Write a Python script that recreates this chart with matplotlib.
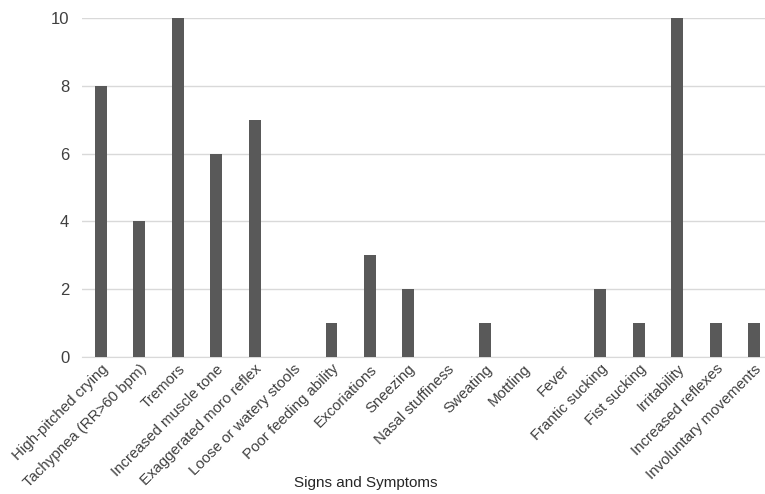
import matplotlib
matplotlib.use("Agg")
import matplotlib.pyplot as plt
import numpy as np

categories = ["High-pitched crying", "Tachypnea (RR>60 bpm)", "Tremors", "Increased muscle tone",
              "Exaggerated moro reflex", "Loose or watery stools", "Poor feeding ability", "Excoriations",
              "Sneezing", "Nasal stuffiness", "Sweating", "Mottling", "Fever", "Frantic sucking",
              "Fist sucking", "Irritability", "Increased reflexes", "Involuntary movements"]
values = [8, 4, 10, 6, 7, 0, 1, 3, 2, 0, 1, 0, 0, 2, 1, 10, 1, 1]
yticks = [0, 2, 4, 6, 8, 10]
xlabel = "Signs and Symptoms"

plt.rcParams['font.family'] = ['Liberation Sans', 'DejaVu Sans']

W, H = 765, 494
fig = plt.figure(figsize=(W/100, H/100), dpi=100)
n = len(categories)
step = (754 - 101) / (n - 1)
left_px = 101 - step / 2
right_px = left_px + step * n
top_px, bot_px = 18, 357
ax = fig.add_axes([left_px/W, 1 - bot_px/H, (right_px-left_px)/W, (bot_px-top_px)/H])
x = np.arange(n)
ax.bar(x, values, width=0.31, color="#595959", zorder=3)
ax.set_xlim(-0.5, n - 0.5)
ax.set_ylim(0, 10)
ax.set_yticks(yticks)
ax.yaxis.grid(True, color="#d9d9d9", linewidth=1, zorder=0)
for s in ["top", "right", "left"]:
    ax.spines[s].set_visible(False)
ax.spines["bottom"].set_color("#d9d9d9")
ax.tick_params(axis="both", length=0, colors="#404040")
ax.tick_params(axis="y", pad=9, labelsize=12)
ax.set_xticks(x)
ax.set_xticklabels(categories, rotation=45, ha="right", rotation_mode="anchor", fontsize=10.8)
fig.text(366/W, 1 - 483/H, xlabel, ha="center", va="center", fontsize=11,
         color="#262626")
fig.savefig("out.png", dpi=100)
